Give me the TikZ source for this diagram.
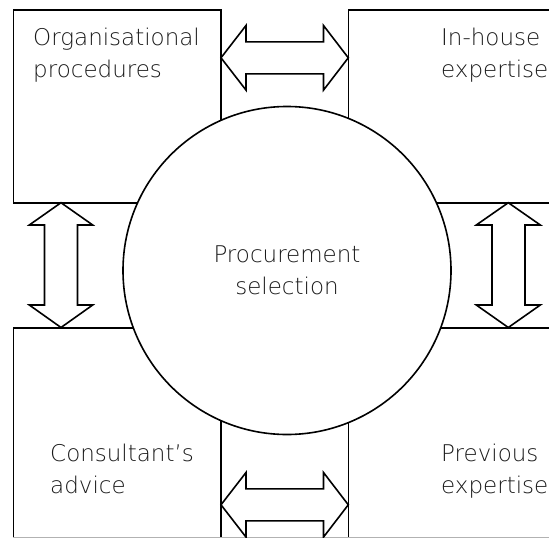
\documentclass[tikz,border=0pt]{standalone}
\usepackage{fontspec}
\newfontfamily\lblfont{DejaVu Sans ExtraLight}
\tikzset{
  boxline/.style={draw=black, line width=1.6pt},
  blockarrow/.style={draw=black, fill=white, line width=1.6pt, line join=miter},
  lbl/.style={inner sep=0pt, font=\lblfont\fontsize{23}{32}\selectfont, text=black!90},
}
\begin{document}
\begin{tikzpicture}[x=1pt,y=-1pt]
\useasboundingbox (0,0) rectangle (549,538);
% boxes (open where they leave the picture)
\draw[boxline] (13.3,10) rectangle (221,203);
\draw[boxline] (560,10) -- (348.3,10) -- (348.3,203) -- (560,203);
\draw[boxline] (13.3,545) -- (13.3,328) -- (221,328) -- (221,545);
\draw[boxline] (560,328) -- (348.3,328) -- (348.3,545);
\draw[gray!60, line width=0.8pt] (13.3,537.6) -- (549,537.6);
% central circle
\node[circle, draw=black, fill=white, line width=1.6pt, minimum size=328pt, inner sep=0pt] (sel) at (287,270.5) {};
% double arrows
\draw[blockarrow] (221,57.8) -- (246,25.5) -- (246,41.8) -- (323.5,41.8) -- (323.5,25.5) -- (348.3,57.8)
  -- (323.5,90.1) -- (323.5,73.8) -- (246,73.8) -- (246,90.1) -- cycle;
\draw[blockarrow] (221,504.8) -- (246,472.5) -- (246,488.8) -- (323.5,488.8) -- (323.5,472.5) -- (348.3,504.8)
  -- (323.5,537.1) -- (323.5,520.8) -- (246,520.8) -- (246,537.1) -- cycle;
\draw[blockarrow] (61,202.7) -- (29.3,225) -- (44.5,225) -- (44.5,305) -- (29.3,305) -- (61,327.5)
  -- (92.7,305) -- (77.5,305) -- (77.5,225) -- (92.7,225) -- cycle;
\draw[blockarrow] (508.3,202.7) -- (476.3,225) -- (492,225) -- (492,305) -- (476.3,305) -- (508.3,327.5)
  -- (540.3,305) -- (525,305) -- (525,225) -- (540.3,225) -- cycle;
% labels (base anchor = baseline of the last line)
\node[lbl, anchor=base west, align=left] (org) at (33,77) {Organisational\\procedures};
\node[lbl, anchor=base west, align=left] (inh) at (441,77) {In-house\\expertise};
\node[lbl, anchor=base, align=center] (proc) at (287,294) {Procurement\\selection};
\node[lbl, anchor=base west, align=left] (cons) at (50,493) {Consultant’s\\advice};
\node[lbl, anchor=base west, align=left] (prev) at (441,493) {Previous\\expertise};
\end{tikzpicture}
\end{document}
